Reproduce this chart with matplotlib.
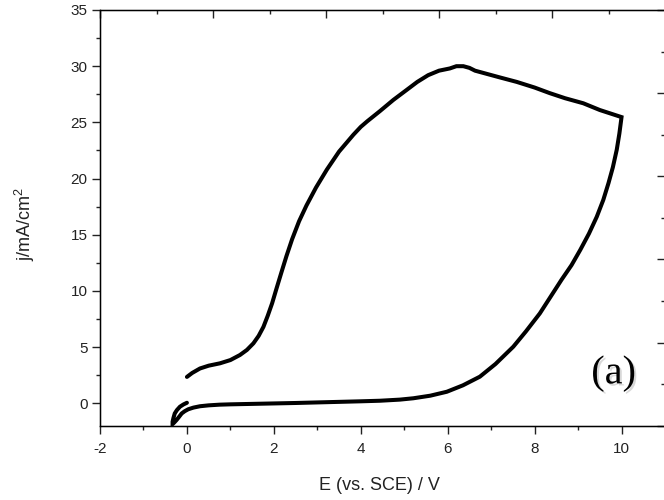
import numpy as np
import matplotlib
matplotlib.use("Agg")
import matplotlib.pyplot as plt
import matplotlib.patheffects as pe
from matplotlib.ticker import MultipleLocator, NullFormatter

# forward scan: 0 V -> -0.33 V -> 10 V
E_fwd = [0.0, -0.08, -0.16, -0.23, -0.28, -0.31, -0.33, -0.33, -0.29, -0.24, -0.18,
         -0.12, -0.05, 0.03, 0.15, 0.3, 0.5, 0.75, 1.0, 1.5, 2.0, 2.5, 3.0, 3.5,
         4.0, 4.44, 4.9, 5.21, 5.6, 5.98, 6.35, 6.74, 7.1, 7.51, 7.8, 8.12, 8.32,
         8.62, 8.85, 9.05, 9.25, 9.43, 9.58, 9.7, 9.8, 9.89, 9.95, 10.0]
j_fwd = [0.05, -0.1, -0.3, -0.6, -0.9, -1.3, -1.64, -1.85, -1.7, -1.49, -1.2,
         -0.9, -0.7, -0.53, -0.38, -0.26, -0.18, -0.12, -0.09, -0.05, -0.01, 0.03,
         0.08, 0.13, 0.18, 0.23, 0.33, 0.45, 0.68, 1.03, 1.6, 2.37, 3.5, 5.04, 6.4,
         8.0, 9.2, 11.0, 12.3, 13.65, 15.1, 16.6, 18.1, 19.6, 21.0, 22.57, 24.0, 25.47]

# reverse scan: 10 V -> 0 V
E_rev = [10.0, 9.5, 9.12, 8.7, 8.35, 8.0, 7.59, 7.2, 6.82, 6.63, 6.5, 6.36, 6.2,
         6.05, 5.8, 5.55, 5.3, 5.06, 4.75, 4.44, 4.15, 4.0, 3.83, 3.5, 3.22, 2.97,
         2.75, 2.58, 2.42, 2.29, 2.17, 2.06, 1.96, 1.86, 1.76, 1.65, 1.53, 1.38,
         1.22, 1.0, 0.76, 0.5, 0.3, 0.12, 0.0]
j_rev = [25.47, 26.1, 26.7, 27.15, 27.6, 28.1, 28.6, 29.0, 29.4, 29.6, 29.85, 30.0,
         30.0, 29.8, 29.6, 29.2, 28.6, 27.9, 27.0, 26.0, 25.1, 24.6, 23.9, 22.4,
         20.8, 19.2, 17.6, 16.2, 14.6, 13.1, 11.6, 10.2, 8.9, 7.8, 6.8, 6.0, 5.34,
         4.75, 4.3, 3.85, 3.56, 3.35, 3.1, 2.7, 2.35]

plt.rcParams['font.family'] = ['Liberation Sans', 'DejaVu Sans']
plt.rcParams['axes.unicode_minus'] = False
ink = '#222222'

fig = plt.figure(figsize=(6.64, 5.0), dpi=100)
ax = fig.add_axes([100 / 664, 74.2 / 500, 565 / 664, 415.8 / 500])

ax.plot(E_fwd + E_rev, j_fwd + j_rev, color='black', lw=2.9,
        solid_joinstyle='miter', solid_capstyle='round')

ax.set_xlim(-2, 11)
ax.set_ylim(-2, 35)
ax.xaxis.set_major_locator(MultipleLocator(2))
ax.xaxis.set_minor_locator(MultipleLocator(1))
ax.yaxis.set_major_locator(MultipleLocator(5))
ax.yaxis.set_minor_locator(MultipleLocator(2.5))
ax.tick_params(which='major', direction='out', length=6, width=1, labelsize=11,
               colors=ink)
ax.tick_params(which='minor', direction='out', length=3, width=1, colors=ink)
ax.tick_params(axis='x', pad=6)
ax.tick_params(axis='y', pad=3)

ax.set_xlabel('E (vs. SCE) / V', fontsize=13, color=ink)
ax.set_ylabel('j/mA/cm$^\\mathregular{2}$', fontsize=13, color=ink)
ax.xaxis.set_label_coords(0.495, -0.123)
ax.yaxis.set_label_coords(-0.111, 0.485)

for s in ax.spines.values():
    s.set_linewidth(1.0)
    s.set_color(ink)

# top and right frame ticks (no labels)
top = ax.twiny()
top.set_xlim(0, 1)
top.xaxis.set_major_locator(MultipleLocator(0.2))
top.xaxis.set_minor_locator(MultipleLocator(0.1))
top.xaxis.set_major_formatter(NullFormatter())
top.tick_params(which='major', direction='in', length=6, width=1, colors=ink)
top.tick_params(which='minor', direction='in', length=3, width=1, colors=ink)

right = ax.twinx()
right.set_ylim(0, 1)
right.yaxis.set_major_locator(MultipleLocator(0.2))
right.yaxis.set_minor_locator(MultipleLocator(0.1))
right.yaxis.set_major_formatter(NullFormatter())
right.tick_params(which='major', direction='in', length=6, width=1, colors=ink)
right.tick_params(which='minor', direction='in', length=3, width=1, colors=ink)

ax.text(0.909, 0.125, '(a)', transform=ax.transAxes, ha='center', va='center',
        fontsize=29, family='Liberation Serif', color='black',
        path_effects=[pe.SimplePatchShadow(offset=(1.5, -1.5), shadow_rgbFace='0.7',
                                           alpha=0.5),
                      pe.Normal()])

fig.savefig('out.png', dpi=100)
